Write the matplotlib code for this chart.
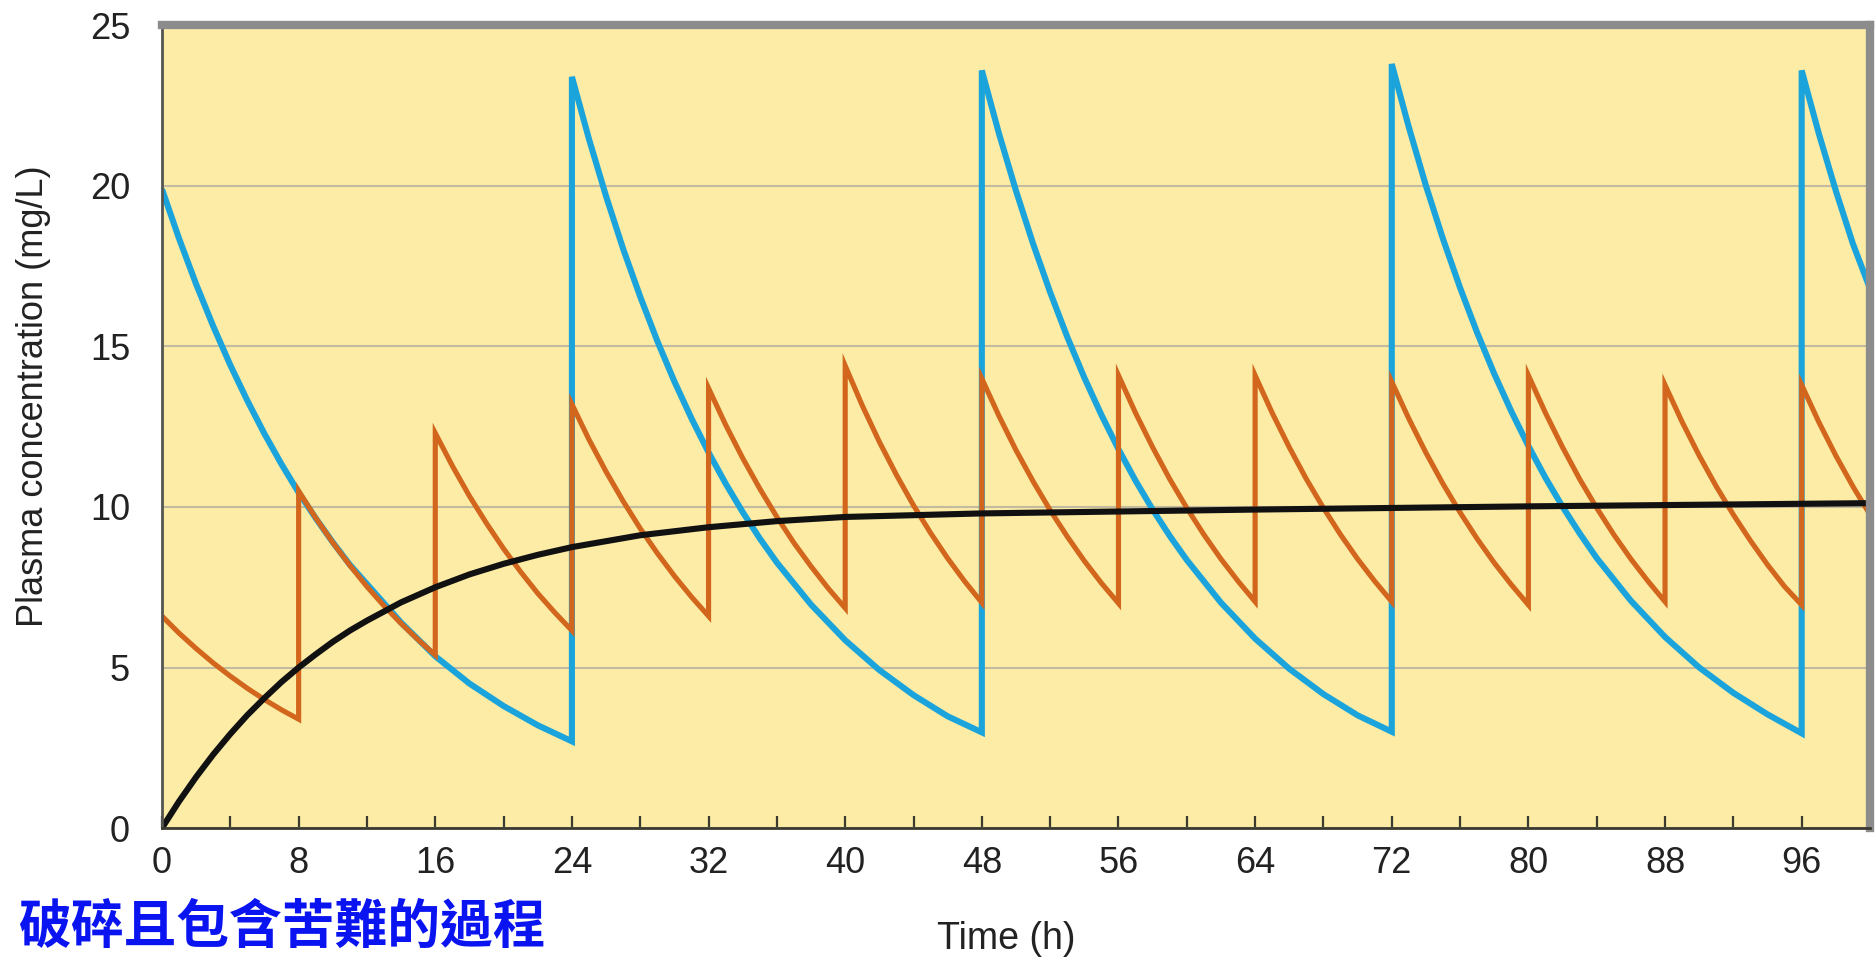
import matplotlib
matplotlib.use("Agg")
from matplotlib import pyplot as plt
from matplotlib.ticker import MultipleLocator

plt.rcParams['font.family'] = ['Liberation Sans', 'Noto Sans CJK TC', 'DejaVu Sans']

# blue: one big dose every 24 h, values read after each dose
blue_dose_times = [0, 24, 48, 72, 96]
blue_offsets = [0, 1, 2, 3, 4, 5, 6, 7, 8, 9, 10, 11, 12, 14, 16, 18, 20, 22, 24]
blue_levels = [
    [19.9, 18.36, 16.94, 15.63, 14.42, 13.31, 12.28, 11.33, 10.45, 9.65, 8.9, 8.2, 7.6,
     6.4, 5.35, 4.5, 3.8, 3.2, 2.7],
    [23.4, 21.46, 19.68, 18.04, 16.55, 15.17, 13.91, 12.76, 11.7, 10.73, 9.84, 9.02, 8.27,
     6.96, 5.85, 4.92, 4.14, 3.48, 2.98],
    [23.6, 21.64, 19.85, 18.2, 16.69, 15.3, 14.03, 12.87, 11.8, 10.82, 9.92, 9.1, 8.35,
     7.02, 5.9, 4.96, 4.17, 3.51, 3.0],
    [23.8, 21.83, 20.01, 18.35, 16.83, 15.43, 14.15, 12.98, 11.9, 10.91, 10.01, 9.18, 8.41,
     7.08, 5.95, 5.0, 4.21, 3.54, 2.95],
    [23.6, 21.64, 19.85, 18.2, 16.8],
]

# orange: smaller dose every 8 h
orange_dose_times = [0, 8, 16, 24, 32, 40, 48, 56, 64, 72, 80, 88, 96]
orange_offsets = [0, 1, 2, 3, 4, 5, 6, 7, 8]
orange_levels = [
    [6.6, 6.07, 5.59, 5.14, 4.73, 4.35, 4.0, 3.68, 3.39],
    [10.5, 9.66, 8.89, 8.18, 7.52, 6.92, 6.37, 5.86, 5.39],
    [12.3, 11.28, 10.34, 9.49, 8.7, 7.98, 7.31, 6.71, 6.15],
    [13.2, 12.1, 11.1, 10.18, 9.33, 8.56, 7.85, 7.2, 6.6],
    [13.7, 12.56, 11.52, 10.57, 9.69, 8.88, 8.15, 7.47, 6.85],
    [14.4, 13.16, 12.03, 11.0, 10.05, 9.19, 8.4, 7.68, 7.02],
    [14.0, 12.84, 11.77, 10.8, 9.9, 9.08, 8.32, 7.63, 7.0],
    [14.1, 12.93, 11.86, 10.87, 9.97, 9.14, 8.38, 7.69, 7.05],
    [14.1, 12.93, 11.86, 10.87, 9.97, 9.14, 8.38, 7.69, 7.05],
    [13.9, 12.75, 11.69, 10.72, 9.83, 9.01, 8.26, 7.58, 6.95],
    [14.1, 12.93, 11.86, 10.87, 9.97, 9.14, 8.38, 7.69, 7.05],
    [13.8, 12.65, 11.6, 10.64, 9.76, 8.95, 8.2, 7.52, 6.95],
    [13.8, 12.65, 11.6, 10.64, 9.76],
]

# black: continuous infusion
black_t = [0, 1, 2, 3, 4, 5, 6, 7, 8, 9, 10, 11, 12, 14, 16, 18, 20, 22, 24, 28, 32, 36, 40,
           48, 56, 64, 72, 80, 88, 96, 100]
black_c = [0, 0.83, 1.59, 2.29, 2.93, 3.52, 4.05, 4.55, 5.0, 5.41, 5.8, 6.15, 6.46, 7.03, 7.5,
           7.9, 8.23, 8.51, 8.75, 9.12, 9.37, 9.56, 9.69, 9.8, 9.86, 9.92, 9.97, 10.02, 10.06,
           10.1, 10.12]

x_ticks = [0, 8, 16, 24, 32, 40, 48, 56, 64, 72, 80, 88, 96]
y_ticks = [0, 5, 10, 15, 20, 25]


def sawtooth(dose_times, offsets, levels):
    xs, ys = [], []
    for t0, vals in zip(dose_times, levels):
        for dt, v in zip(offsets, vals):
            xs.append(t0 + dt)
            ys.append(v)
    return xs, ys


fig = plt.figure(figsize=(18.76, 9.63), dpi=100)
ax = fig.add_axes([162 / 1876, 1 - 828 / 963, 1708 / 1876, 802.5 / 963])
ax.set_facecolor('#fceca6')

bx, by = sawtooth(blue_dose_times, blue_offsets, blue_levels)
ox, oy = sawtooth(orange_dose_times, orange_offsets, orange_levels)
ax.plot(bx, by, color='#1ba4dc', lw=4.4, solid_joinstyle='miter', solid_capstyle='butt', zorder=2)
ax.plot(ox, oy, color='#d2661d', lw=3.7, solid_joinstyle='miter', solid_capstyle='butt', zorder=2.1)
ax.plot(black_t, black_c, color='#111111', lw=4.4, solid_capstyle='butt', zorder=2.2)

ax.set_xlim(0, 100)
ax.set_ylim(0, 25)
ax.set_xticks(x_ticks)
ax.xaxis.set_minor_locator(MultipleLocator(4))
ax.set_yticks(y_ticks)
ax.tick_params(axis='x', which='both', direction='in', length=9, width=1.6, color='#3a3a30',
               labelsize=26, pad=13, labelcolor='#222222')
ax.tick_params(axis='y', length=0, labelsize=26, pad=23, labelcolor='#222222')

ax.yaxis.grid(True, color='#c2bb9f', lw=1.5, zorder=1)
ax.set_axisbelow(True)

ax.spines['left'].set_color('#555550')
ax.spines['left'].set_linewidth(2)
ax.spines['bottom'].set_color('#3a3a30')
ax.spines['bottom'].set_linewidth(2)
ax.spines['top'].set_color('#8c8c8c')
ax.spines['top'].set_linewidth(6)
ax.spines['right'].set_color('#8c8c8c')
ax.spines['right'].set_linewidth(6)

ax.set_xlabel('Time (h)', fontsize=27, color='#222222', va='center')
ax.xaxis.set_label_coords(0.494, -0.138)
ax.set_ylabel('Plasma concentration (mg/L)', fontsize=26, color='#222222', va='center')
ax.yaxis.set_label_coords(-0.0755, 0.538)

fig.text(18 / 1876, 1 - 929 / 963, '破碎且包含苦難的過程', fontsize=38, fontweight='bold',
         color='#0a14f0', ha='left', va='center')

fig.savefig('out.png', dpi=100)
